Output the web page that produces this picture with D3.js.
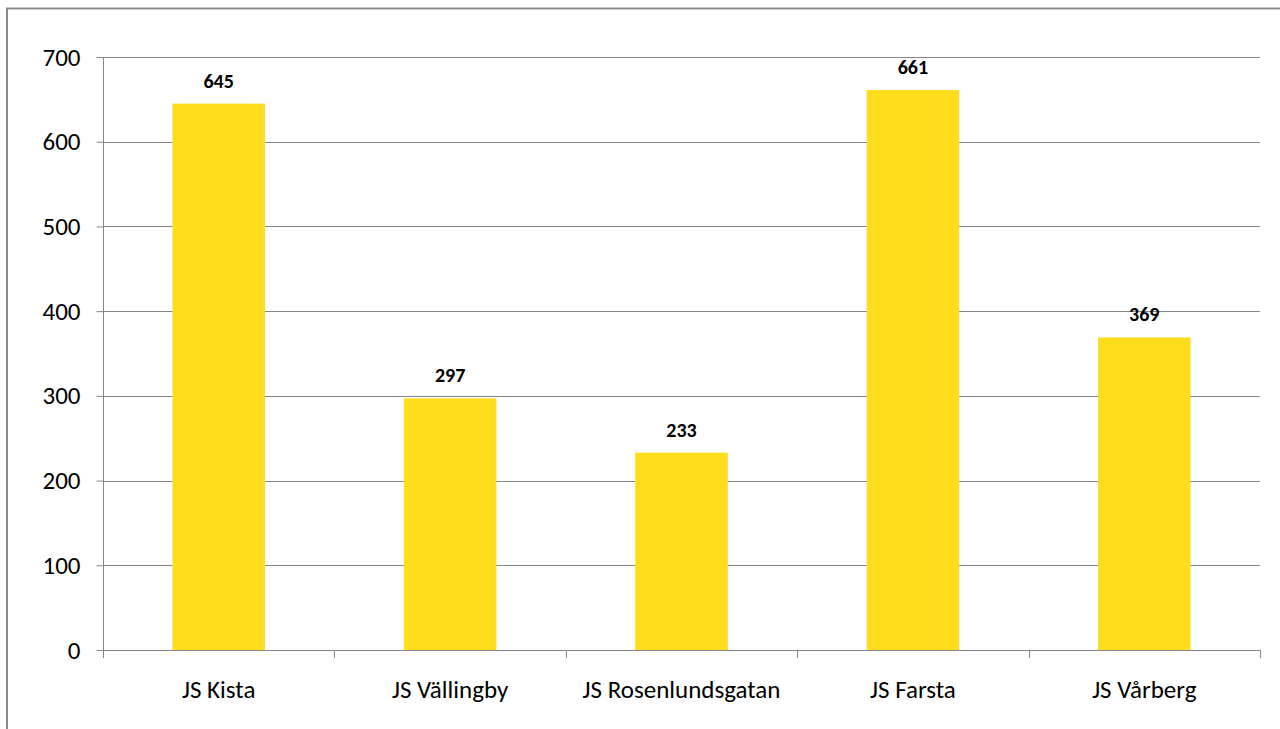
<!DOCTYPE html>
<html>
<head>
<meta charset="utf-8">
<script src="https://cdn.jsdelivr.net/npm/d3@7"></script>
<style>
  body { margin: 0; background: #fff; }
  svg { display: block; }
</style>
</head>
<body>
<svg id="chart" width="1280" height="729"></svg>
<script>
// data
const categories = ["JS Kista", "JS Vällingby", "JS Rosenlundsgatan", "JS Farsta", "JS Vårberg"];
const values = [645, 297, 233, 661, 369];
const yTicks = [0, 100, 200, 300, 400, 500, 600, 700];

const fontFamily = "Carlito, 'Open Sans', 'Liberation Sans', sans-serif";

const svg = d3.select("#chart");

// outer frame (runs off the bottom/right of the picture)
svg.append("rect")
  .attr("x", 7).attr("y", 8.5)
  .attr("width", 1290).attr("height", 740)
  .attr("fill", "none")
  .attr("stroke", "#8c8c8c")
  .attr("stroke-width", 2);

const plotLeft = 103, plotRight = 1260, plotTop = 57, plotBottom = 650;

const x = d3.scaleBand().domain(categories).range([plotLeft, plotRight]).paddingInner(0).paddingOuter(0);
const y = d3.scaleLinear().domain([0, 700]).range([plotBottom, plotTop]);

// gridlines
svg.append("g")
  .selectAll("line")
  .data(yTicks.filter(d => d > 0))
  .join("line")
    .attr("x1", plotLeft).attr("x2", plotRight)
    .attr("y1", d => Math.round(y(d)) + 0.5).attr("y2", d => Math.round(y(d)) + 0.5)
    .attr("stroke", "#868686").attr("stroke-width", 1);

// bars
const barW = x.bandwidth() * 0.4;
svg.append("g")
  .selectAll("rect")
  .data(values)
  .join("rect")
    .attr("x", (d, i) => x(categories[i]) + (x.bandwidth() - barW) / 2)
    .attr("y", d => y(d))
    .attr("width", barW)
    .attr("height", d => plotBottom - y(d))
    .attr("fill", "#fddd1c");

// value labels
svg.append("g")
  .selectAll("text")
  .data(values)
  .join("text")
    .attr("x", (d, i) => x(categories[i]) + x.bandwidth() / 2)
    .attr("y", d => y(d) - 16)
    .attr("text-anchor", "middle")
    .attr("font-family", fontFamily)
    .attr("font-size", 20)
    .attr("font-weight", "bold")
    .attr("fill", "#000")
    .text(d => d);

// y axis
const yAxis = svg.append("g")
  .attr("transform", `translate(${plotLeft + 0.5},0)`)
  .call(d3.axisLeft(y).tickValues(yTicks).tickSize(7).tickPadding(16).tickFormat(d3.format("d")));
yAxis.select(".domain").attr("stroke", "#868686").attr("d", `M0,${plotTop}V${plotBottom}`);
yAxis.selectAll(".tick line").attr("stroke", "#868686");
yAxis.selectAll("text")
  .attr("font-family", fontFamily)
  .attr("font-size", 25)
  .attr("fill", "#000");

// x axis
const xAxis = svg.append("g")
  .attr("transform", `translate(0,${plotBottom + 0.5})`)
  .call(d3.axisBottom(x).tickSize(0).tickPadding(30));
xAxis.select(".domain").attr("stroke", "#868686").attr("d", `M${plotLeft},0H${plotRight}`);
xAxis.selectAll("text")
  .attr("font-family", fontFamily)
  .attr("font-size", 25)
  .attr("fill", "#000");

// category boundary ticks
const bounds = categories.map(c => x(c)).concat([plotRight]);
svg.append("g")
  .selectAll("line")
  .data(bounds)
  .join("line")
    .attr("x1", d => Math.round(d) + 0.5).attr("x2", d => Math.round(d) + 0.5)
    .attr("y1", plotBottom).attr("y2", plotBottom + 8)
    .attr("stroke", "#868686");
</script>
</body>
</html>
